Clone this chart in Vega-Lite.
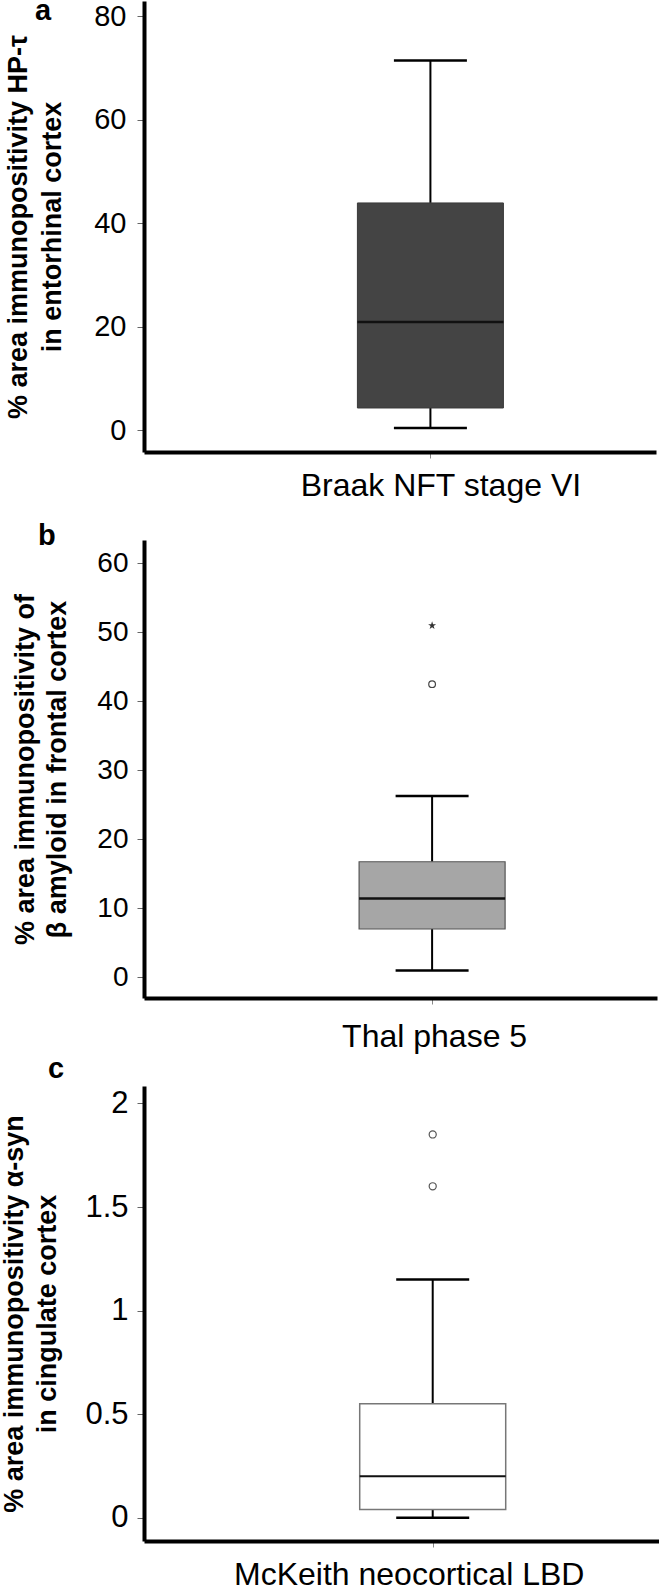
{
  "$schema": "https://vega.github.io/schema/vega-lite/v6.json",
  "padding": {"top": -3, "left": 0, "right": 0, "bottom": 0},
  "background": "white",
  "spacing": 88,
  "bounds": "flush",
  "config": {"font": "Liberation Sans", "view": {"stroke": null}},
  "vconcat": [
    {
      "width": 512, "height": 451,
      "title": {"text": "a", "anchor": "start", "frame": "group", "fontSize": 29, "fontWeight": "bold", "baseline": "alphabetic", "dx": -109, "offset": -48, "color": "black"},
      "data": {"values": [{"stage": "Braak NFT stage VI", "lower": 0.44, "q1": 4.3, "median": 20.9, "q3": 43.9, "upper": 71.4}]},
      "encoding": {
        "x": {"field": "stage", "type": "nominal", "scale": {"type": "point", "align": 0.5594},
          "axis": {"title": null, "labelAngle": 0, "labelFontSize": 32, "labelLimit": 600, "labelColor": "black", "labelPadding": 12, "labelOffset": 10, "domainColor": "black", "domainWidth": 4, "tickColor": "#888", "tickWidth": 1, "tickSize": 6, "grid": false}}
      },
      "layer": [
        {"mark": {"type": "rule", "color": "black", "strokeWidth": 2},
         "encoding": {"y": {"field": "lower", "type": "quantitative", "scale": {"domain": [-4.2, 82.9], "nice": false, "zero": false},
            "axis": {"values": [0, 20, 40, 60, 80], "format": "d", "grid": false, "domainColor": "black", "domainWidth": 4, "tickColor": "#666", "tickWidth": 1, "tickSize": 7, "labelFontSize": 29, "labelColor": "black", "labelPadding": 11, "title": ["% area immunopositivity HP-τ", "in entorhinal cortex"], "titleFontSize": 27, "titleFontWeight": "bold", "titleColor": "black", "titleLineHeight": 34, "titlePadding": 27}},
           "y2": {"field": "q1"}}},
        {"mark": {"type": "rule", "color": "black", "strokeWidth": 2},
         "encoding": {"y": {"field": "q3", "type": "quantitative"}, "y2": {"field": "upper"}}},
        {"mark": {"type": "tick", "color": "black", "size": 73, "thickness": 2.5, "opacity": 1},
         "encoding": {"y": {"field": "lower", "type": "quantitative"}}},
        {"mark": {"type": "tick", "color": "black", "size": 73, "thickness": 2.5, "opacity": 1},
         "encoding": {"y": {"field": "upper", "type": "quantitative"}}},
        {"mark": {"type": "bar", "size": 146, "fill": "#444444", "stroke": "#3a3a3a", "strokeWidth": 1},
         "encoding": {"y": {"field": "q1", "type": "quantitative"}, "y2": {"field": "q3"}}},
        {"mark": {"type": "tick", "color": "#111111", "size": 146, "thickness": 2.5, "opacity": 1},
         "encoding": {"y": {"field": "median", "type": "quantitative"}}}
      ]
    },
    {
      "width": 513, "height": 458,
      "title": {"text": "b", "anchor": "start", "frame": "group", "fontSize": 29, "fontWeight": "bold", "baseline": "alphabetic", "dx": -106, "offset": -34, "color": "black"},
      "data": {"values": [{"stage": "Thal phase 5", "lower": 1.0, "q1": 7.0, "median": 11.44, "q3": 16.75, "upper": 26.3}]},
      "encoding": {
        "x": {"field": "stage", "type": "nominal", "scale": {"type": "point", "align": 0.5616},
          "axis": {"title": null, "labelAngle": 0, "labelFontSize": 32, "labelLimit": 600, "labelColor": "black", "labelPadding": 17, "labelOffset": 2, "domainColor": "black", "domainWidth": 4, "tickColor": "#888", "tickWidth": 1, "tickSize": 6, "grid": false}}
      },
      "layer": [
        {"mark": {"type": "rule", "color": "black", "strokeWidth": 2},
         "encoding": {"y": {"field": "lower", "type": "quantitative", "scale": {"domain": [-3.0, 63.4], "nice": false, "zero": false},
            "axis": {"values": [0, 10, 20, 30, 40, 50, 60], "format": "d", "grid": false, "domainColor": "black", "domainWidth": 4, "tickColor": "#666", "tickWidth": 1, "tickSize": 7, "labelFontSize": 28, "labelColor": "black", "labelPadding": 9, "title": ["% area immunopositivity of", "β amyloid in frontal cortex"], "titleFontSize": 27, "titleFontWeight": "bold", "titleColor": "black", "titleLineHeight": 32, "titlePadding": 25}},
           "y2": {"field": "q1"}}},
        {"mark": {"type": "rule", "color": "black", "strokeWidth": 2},
         "encoding": {"y": {"field": "q3", "type": "quantitative"}, "y2": {"field": "upper"}}},
        {"mark": {"type": "tick", "color": "black", "size": 73, "thickness": 2.5, "opacity": 1},
         "encoding": {"y": {"field": "lower", "type": "quantitative"}}},
        {"mark": {"type": "tick", "color": "black", "size": 73, "thickness": 2.5, "opacity": 1},
         "encoding": {"y": {"field": "upper", "type": "quantitative"}}},
        {"mark": {"type": "bar", "size": 146, "fill": "#a6a6a6", "stroke": "#555555", "strokeWidth": 1.2},
         "encoding": {"y": {"field": "q1", "type": "quantitative"}, "y2": {"field": "q3"}}},
        {"mark": {"type": "tick", "color": "#111111", "size": 146, "thickness": 2.5, "opacity": 1},
         "encoding": {"y": {"field": "median", "type": "quantitative"}}},
        {"data": {"values": [{"stage": "Thal phase 5", "value": 42.5}]},
         "mark": {"type": "point", "shape": "circle", "size": 45, "filled": false, "stroke": "#444444", "strokeWidth": 1.2, "opacity": 1},
         "encoding": {"y": {"field": "value", "type": "quantitative"}}},
        {"data": {"values": [{"stage": "Thal phase 5", "value": 51.0}]},
         "mark": {"type": "point", "shape": "M0,-1L0.2245,-0.309L0.9511,-0.309L0.3633,0.118L0.5878,0.809L0,0.382L-0.5878,0.809L-0.3633,0.118L-0.9511,-0.309L-0.2245,-0.309Z", "size": 70, "filled": true, "fill": "#333333", "strokeWidth": 0, "opacity": 1},
         "encoding": {"y": {"field": "value", "type": "quantitative"}}}
      ]
    },
    {
      "width": 515, "height": 455,
      "title": {"text": "c", "anchor": "start", "frame": "group", "fontSize": 29, "fontWeight": "bold", "baseline": "alphabetic", "dx": -96, "offset": -21, "color": "black"},
      "data": {"values": [{"stage": "McKeith neocortical LBD", "lower": 0.0, "q1": 0.04, "median": 0.2, "q3": 0.55, "upper": 1.15}]},
      "encoding": {
        "x": {"field": "stage", "type": "nominal", "scale": {"type": "point", "align": 0.5606},
          "axis": {"title": null, "labelAngle": 0, "labelFontSize": 32, "labelLimit": 600, "labelColor": "black", "labelPadding": 12, "labelOffset": -24, "domainColor": "black", "domainWidth": 4, "tickColor": "#888", "tickWidth": 1, "tickSize": 6, "grid": false}}
      },
      "layer": [
        {"mark": {"type": "rule", "color": "black", "strokeWidth": 2},
         "encoding": {"y": {"field": "lower", "type": "quantitative", "scale": {"domain": [-0.112, 2.084], "nice": false, "zero": false},
            "axis": {"values": [0, 0.5, 1, 1.5, 2], "format": "~g", "grid": false, "domainColor": "black", "domainWidth": 4, "tickColor": "#666", "tickWidth": 1, "tickSize": 7, "labelFontSize": 31, "labelColor": "black", "labelPadding": 9, "title": ["% area immunopositivity α-syn", "in cingulate cortex"], "titleFontSize": 27, "titleFontWeight": "bold", "titleColor": "black", "titleLineHeight": 33, "titlePadding": 23}},
           "y2": {"field": "q1"}}},
        {"mark": {"type": "rule", "color": "black", "strokeWidth": 2},
         "encoding": {"y": {"field": "q3", "type": "quantitative"}, "y2": {"field": "upper"}}},
        {"mark": {"type": "tick", "color": "black", "size": 73, "thickness": 2.5, "opacity": 1},
         "encoding": {"y": {"field": "lower", "type": "quantitative"}}},
        {"mark": {"type": "tick", "color": "black", "size": 73, "thickness": 2.5, "opacity": 1},
         "encoding": {"y": {"field": "upper", "type": "quantitative"}}},
        {"mark": {"type": "bar", "size": 146, "fill": "white", "stroke": "#777777", "strokeWidth": 1.5},
         "encoding": {"y": {"field": "q1", "type": "quantitative"}, "y2": {"field": "q3"}}},
        {"mark": {"type": "tick", "color": "#111111", "size": 146, "thickness": 2, "opacity": 1},
         "encoding": {"y": {"field": "median", "type": "quantitative"}}},
        {"data": {"values": [{"stage": "McKeith neocortical LBD", "value": 1.85}, {"stage": "McKeith neocortical LBD", "value": 1.6}]},
         "mark": {"type": "point", "shape": "circle", "size": 50, "filled": false, "stroke": "#555555", "strokeWidth": 1.2, "opacity": 1},
         "encoding": {"y": {"field": "value", "type": "quantitative"}}}
      ]
    }
  ]
}
